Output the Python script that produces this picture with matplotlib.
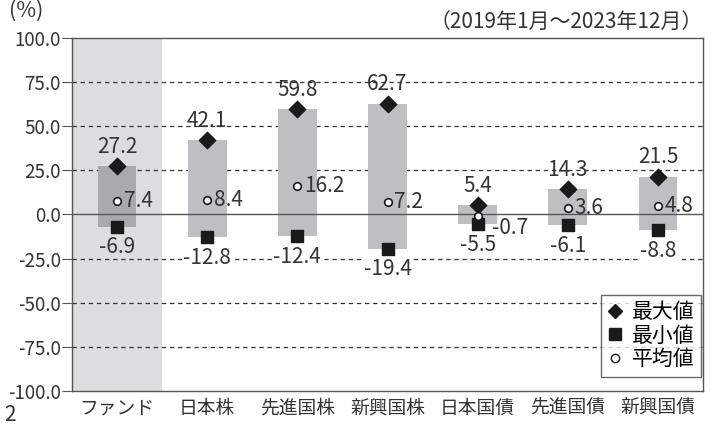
import matplotlib
matplotlib.use("Agg")
from matplotlib import pyplot as plt
from matplotlib.lines import Line2D

plt.rcParams['font.family'] = ['Noto Sans CJK JP', 'DejaVu Sans']

# data
categories = ["ファンド", "日本株", "先進国株", "新興国株", "日本国債", "先進国債", "新興国債"]
max_vals = [27.2, 42.1, 59.8, 62.7, 5.4, 14.3, 21.5]
min_vals = [-6.9, -12.8, -12.4, -19.4, -5.5, -6.1, -8.8]
mean_vals = [7.4, 8.4, 16.2, 7.2, -0.7, 3.6, 4.8]
yticks = [100, 75, 50, 25, 0, -25, -50, -75, -100]

num_font = ['Noto Sans CJK JP', 'DejaVu Sans']
txt = "#333333"

fig = plt.figure(figsize=(7.13, 4.26), dpi=100)
ax = fig.add_axes([0.101, 0.082, 0.885, 0.829])

x = list(range(len(categories)))

# highlight the fund column
ax.axvspan(-0.5, 0.5, color="#dcdddf", zorder=0, lw=0)

# grid
for t in yticks:
    if t in (100, -100):
        continue
    if t == 0:
        ax.axhline(0, color="#555555", lw=1.0, zorder=3)
    else:
        ax.axhline(t, color="#333333", lw=0.9, ls=(0, (3.5, 3)), zorder=1)

bar_colors = ["#a9aaad"] + ["#bebfc2"] * (len(categories) - 1)
ax.bar(x, [mx - mn for mx, mn in zip(max_vals, min_vals)], bottom=min_vals,
       width=0.43, color=bar_colors, zorder=2)

ax.scatter(x, max_vals, marker="D", s=70, color="#1a1a1a", zorder=5)
ax.scatter(x, min_vals, marker="s", s=75, color="#1a1a1a", zorder=5)
ax.scatter(x, mean_vals, marker="o", s=30, facecolor="white", edgecolor="#1a1a1a", lw=1.2, zorder=6)

for i in x:
    ax.annotate(f"{max_vals[i]:.1f}", (i, max_vals[i]), xytext=(0, 6), textcoords="offset points",
                ha="center", va="bottom", fontsize=15, color=txt, family=num_font, zorder=7)
    bb = None if i == 0 else dict(facecolor="white", edgecolor="none", pad=1)
    ax.annotate(f"{min_vals[i]:.1f}", (i, min_vals[i]), xytext=(0, -7), textcoords="offset points",
                ha="center", va="top", fontsize=15, color=txt, family=num_font, zorder=7, bbox=bb)
    # negative mean sits on the zero line, push its label below-right
    dx, dy = (10, -9) if mean_vals[i] < 0 else (5, 0)
    ax.annotate(f"{mean_vals[i]:.1f}", (i, mean_vals[i]), xytext=(dx, dy), textcoords="offset points",
                ha="left", va="center", fontsize=15, color=txt, family=num_font, zorder=7)

ax.set_xlim(-0.5, 6.5)
ax.set_ylim(-100, 100)
ax.set_yticks(yticks)
ax.set_yticklabels([f"{t:.1f}" for t in yticks], family=num_font, fontsize=13.5, color=txt)
ax.set_xticks(x)
ax.set_xticklabels(categories, fontsize=13.5, color=txt)
ax.tick_params(axis="x", length=0, pad=5)
ax.tick_params(axis="y", length=7, color="#555555", pad=1)
for s in ax.spines.values():
    s.set_color("#555555")
    s.set_linewidth(1.0)

fig.text(0.012, 1.0, "(%)", fontsize=15.5, color=txt, ha="left", va="top")
fig.text(0.985, 0.975, "（2019年1月〜2023年12月）", fontsize=15, color=txt, ha="right", va="top")
fig.text(0.006, 0.0, "2", fontsize=15, color=txt, family=num_font, va="bottom")

handles = [
    Line2D([], [], marker="D", ls="none", color="#1a1a1a", markersize=7.5),
    Line2D([], [], marker="s", ls="none", color="#1a1a1a", markersize=8),
    Line2D([], [], marker="o", ls="none", markerfacecolor="white", markeredgecolor="#1a1a1a", markersize=6),
]
leg = ax.legend(handles, ["最大値", "最小値", "平均値"], loc="lower right", bbox_to_anchor=(1.0, 0.035),
                fontsize=15, frameon=True, fancybox=False, handlelength=0.8, handletextpad=0.4,
                labelspacing=0.08, borderpad=0.3, borderaxespad=0.1)
leg.get_frame().set_edgecolor("#444444")
leg.get_frame().set_linewidth(1.0)
leg.set_zorder(10)

fig.savefig("out.png", dpi=100)
